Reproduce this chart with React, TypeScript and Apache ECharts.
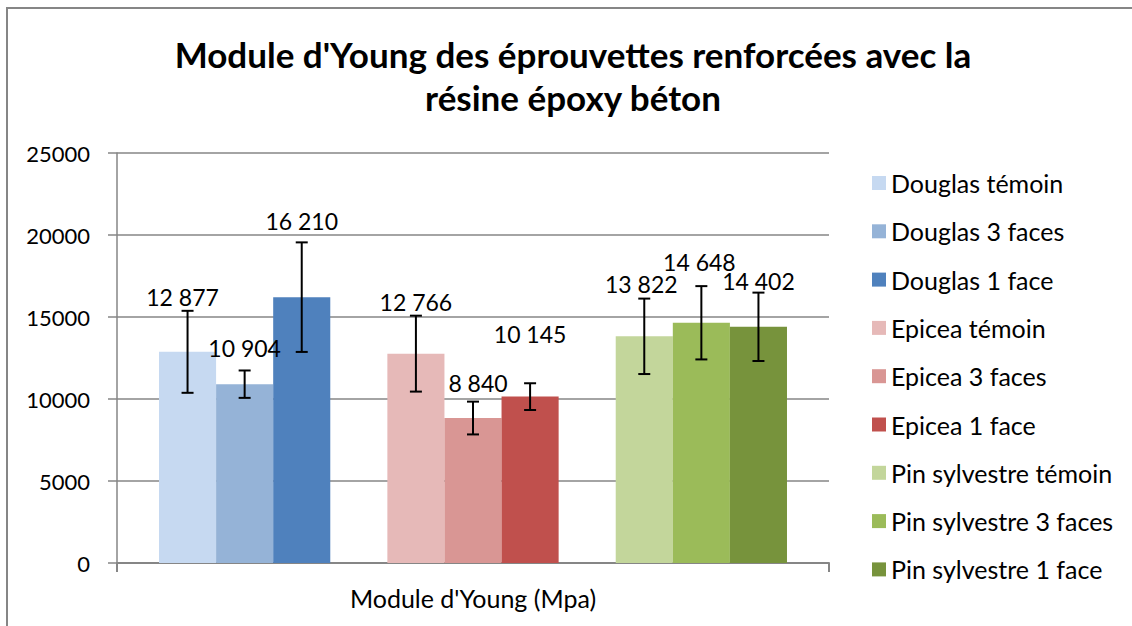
import React, { useEffect, useRef } from "react";
import * as echarts from "echarts";

const CATEGORIES = ["Module d'Young (Mpa)"];
const SERIES_NAMES = [
  "Douglas témoin",
  "Douglas 3 faces",
  "Douglas 1 face",
  "Epicea témoin",
  "Epicea 3 faces",
  "Epicea 1 face",
  "Pin sylvestre témoin",
  "Pin sylvestre 3 faces",
  "Pin sylvestre 1 face",
];
const VALUES = [12877, 10904, 16210, 12766, 8840, 10145, 13822, 14648, 14402];
const ERRORS = [2500, 835, 3340, 2315, 1000, 815, 2300, 2235, 2085];
const COLORS = [
  "#c6d9f1", "#95b3d7", "#4f81bd",
  "#e6b9b8", "#d99694", "#c0504d",
  "#c3d69b", "#9bbb59", "#77933c",
];
const Y_TICKS = { min: 0, max: 25000, interval: 5000 };
// label offsets [dx, dy] (style, from the reference's hand-placed labels)
const LABEL_OFFSETS: [number, number][] = [
  [-5, -43.5], [0, -24.5], [0, -64.5],
  [0, -40.5], [5, -23.5], [0, -51.5],
  [-3, -40.5], [-2, -49.5], [0, -34.5],
];

const GAP = 0.118;
const SLOTS = 11;
const FONT = "Lato";

const fmt = (v: number) => String(v).replace(/\B(?=(\d{3})+(?!\d))/g, " ");

export default function App() {
  const ref = useRef<HTMLDivElement>(null);
  useEffect(() => {
    if (!ref.current) return;
    const chart = echarts.init(ref.current, undefined, { renderer: "svg" });
    const series: any[] = [];
    SERIES_NAMES.forEach((name, i) => {
      series.push({
        type: "bar",
        name,
        data: [VALUES[i]],
        barGap: 0,
        barCategoryGap: GAP * 100 + "%",
        itemStyle: { color: COLORS[i] },
        label: {
          show: true,
          position: "top",
          distance: 0,
          offset: LABEL_OFFSETS[i],
          formatter: (p: any) => fmt(p.value),
          color: "#000",
          fontFamily: FONT,
          fontSize: 23,
        },
      });
      if (i === 2 || i === 5) {
        series.push({
          type: "bar",
          name: "_gap" + i,
          data: ["-"],
          barGap: 0,
          barCategoryGap: GAP * 100 + "%",
        });
      }
    });
    series.push({
      type: "custom",
      name: "errors",
      data: VALUES.map((v, i) => [0, v - ERRORS[i], v + ERRORS[i], i]),
      encode: { x: 0, y: [1, 2] },
      z: 10,
      renderItem: (params: any, api: any) => {
        const i = api.value(3);
        const slot = i + Math.floor(i / 3);
        const band = api.size([1, 0])[0];
        const inner = band * (1 - GAP);
        const bw = inner / SLOTS;
        const lo = api.coord([0, api.value(1)]);
        const hi = api.coord([0, api.value(2)]);
        const x = lo[0] - inner / 2 + (slot + 0.5) * bw;
        const cap = 6;
        const st = { stroke: "#000", lineWidth: 2 };
        return {
          type: "group",
          children: [
            { type: "line", shape: { x1: x, y1: lo[1], x2: x, y2: hi[1] }, style: st },
            { type: "line", shape: { x1: x - cap, y1: lo[1], x2: x + cap, y2: lo[1] }, style: st },
            { type: "line", shape: { x1: x - cap, y1: hi[1], x2: x + cap, y2: hi[1] }, style: st },
          ],
        };
      },
    });

    chart.setOption({
      animation: false,
      textStyle: { fontFamily: FONT },
      title: {
        text: "Module d'Young des éprouvettes renforcées avec la\nrésine époxy béton",
        left: 573,
        top: 32,
        padding: 0,
        textAlign: "center",
        textStyle: {
          fontFamily: FONT,
          fontSize: 35,
          fontWeight: "bold",
          color: "#000",
          lineHeight: 43,
        },
      },
      graphic: [
        {
          type: "polyline",
          shape: { points: [[7, 640], [7, 8], [1140, 8]] },
          style: { fill: "none", stroke: "#868686", lineWidth: 2 },
          silent: true,
        },
      ],
      legend: {
        data: SERIES_NAMES,
        orient: "vertical",
        left: 872,
        top: 170,
        padding: 0,
        icon: "rect",
        itemWidth: 14,
        itemHeight: 14,
        itemGap: 22.3,
        itemStyle: { borderWidth: 0 },
        textStyle: { fontFamily: FONT, fontSize: 25, color: "#000", lineHeight: 26 },
        selectedMode: false,
      },
      grid: { left: 117, right: 303, top: 153, bottom: 63, containLabel: false },
      xAxis: {
        type: "category",
        data: CATEGORIES,
        axisLine: { show: true, lineStyle: { color: "#868686", width: 2 } },
        axisTick: { show: true, length: 9, lineStyle: { color: "#868686", width: 2 } },
        axisLabel: { color: "#000", fontFamily: FONT, fontSize: 25, margin: 22 },
      },
      yAxis: {
        type: "value",
        min: Y_TICKS.min,
        max: Y_TICKS.max,
        interval: Y_TICKS.interval,
        axisLine: { show: true, lineStyle: { color: "#868686", width: 1.5 } },
        axisTick: { show: true, length: 9, lineStyle: { color: "#868686", width: 1.5 } },
        splitLine: { show: true, lineStyle: { color: "#868686", width: 1.5 } },
        axisLabel: {
          color: "#000",
          fontFamily: FONT,
          fontSize: 22,
          margin: 27,
          formatter: (v: number) => String(v),
        },
      },
      series,
    });
    return () => chart.dispose();
  }, []);
  return (
    <div
      ref={ref}
      style={{ position: "fixed", left: 0, top: 0, width: 1132, height: 626, background: "#fff" }}
    />
  );
}
